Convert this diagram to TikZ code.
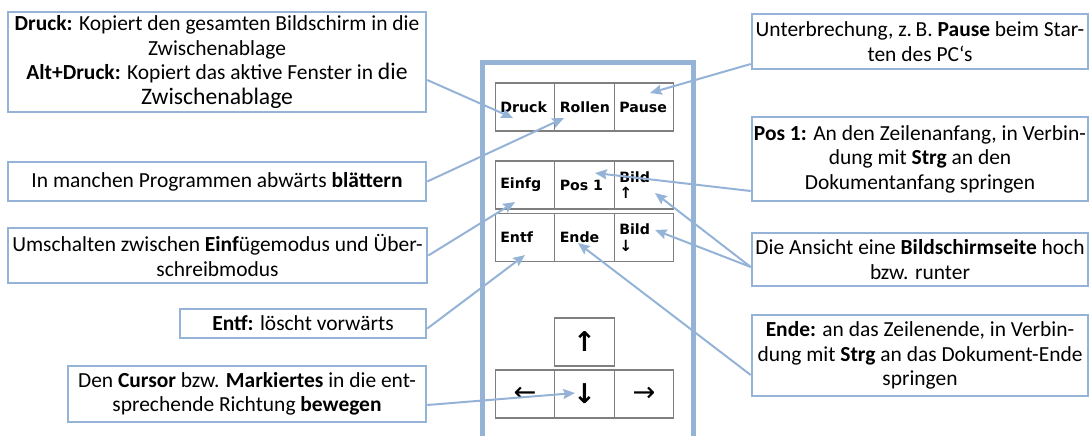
\documentclass[tikz,border=0pt]{standalone}
\usepackage{fontspec}
\setmainfont{Carlito}
\newfontfamily\keyfont{DejaVu Sans}
\usetikzlibrary{arrows.meta, calc}
\definecolor{frameBlue}{HTML}{95B3D7}
\definecolor{keyGray}{HTML}{7F7F7F}

\begin{document}
\begin{tikzpicture}[
		x=0.55pt, y=-0.55pt,
		font=\fontsize{11.8}{13.5}\selectfont,
		% Styles
		infoBox/.style 2 args={draw=frameBlue, line width=1.4pt, fill=white, inner sep=0pt, align=center, minimum width=#1, minimum height=#2},
		keyCap/.style={draw=keyGray, line width=0.7pt, minimum width=32.7pt, minimum height=26.4pt, inner xsep=2.75pt, inner ysep=0pt, text width=27.2pt, align=left, font=\keyfont\bfseries\fontsize{7.8}{8.6}\selectfont},
		arrowKey/.style={keyCap, align=center, font=\keyfont\fontsize{15}{16}\selectfont},
		pointerArrow/.style={-{Stealth[length=6.5pt, width=5.5pt, inset=1pt]}, line width=1.1pt, draw=frameBlue}
		]
		\useasboundingbox (0,0) rectangle (1091,435);
		
		% =========================================================
		% 1. KEYBOARD FRAME AND KEYS
		% =========================================================
		\draw[line width=2.75pt, frameBlue] (482,440) -- (482,62) -- (693,62) -- (693,440);
		
		% Top row
		\node[keyCap] (kDruck) at (525,107) {Druck};
		\node[keyCap] (kRollen) at (584.5,107) {Rollen};
		\node[keyCap] (kPause) at (644,107) {Pause};
		
		% Navigation block
		\node[keyCap] (kEinfg) at (525,185) {Einfg};
		\node[keyCap] (kPos) at (584.5,185) {Pos 1};
		\node[keyCap] (kBildUp) at (644,185) {Bild\\[0.5pt]{\fontsize{8.5}{8.6}\selectfont ↑}};
		\node[keyCap] (kEntf) at (525,237.5) {Entf};
		\node[keyCap] (kEnde) at (584.5,237.5) {Ende};
		\node[keyCap] (kBildDown) at (644,237.5) {Bild\\[0.5pt]{\fontsize{8.5}{8.6}\selectfont ↓}};
		
		% Cursor keys
		\node[arrowKey, font=\keyfont\bfseries\fontsize{15}{16}\selectfont] (kUp) at (584.5,342) {↑};
		\node[arrowKey] (kLeft) at (525,394) {←};
		\node[arrowKey, font=\keyfont\bfseries\fontsize{15}{16}\selectfont] (kDown) at (584.5,394) {↓};
		\node[arrowKey] (kRight) at (644,394) {→};
		
		% =========================================================
		% 2. EXPLANATION BOXES
		% =========================================================
		% Left column
		\node[infoBox={229.9pt}{55pt}] (bDruck) at (217,62) {\textbf{Druck:} Kopiert den gesamten Bildschirm in die\\
			Zwischenablage\\
			\textbf{Alt+Druck:} Kopiert das aktive Fenster in {\fontsize{13}{13.5}\selectfont die}\\
			{\fontsize{13}{13.5}\selectfont Zwischenablage}};
		\node[infoBox={229.9pt}{21.45pt}] (bRollen) at (217,181.5) {In manchen Programmen abwärts \textbf{blättern}};
		\node[infoBox={230.45pt}{30.25pt}] (bEinfg) at (217.5,255.5) {Umschalten zwischen \textbf{Einf}ügemodus und Über-\\schreibmodus};
		\node[infoBox={135.3pt}{15.95pt}] (bEntf) at (303,323.5) {\textbf{Entf:} löscht vorwärts};
		\node[infoBox={196.9pt}{30.8pt}] (bCursor) at (247,394) {Den \textbf{Cursor} bzw. \textbf{Markiertes} in die ent-\\sprechende Richtung \textbf{bewegen}};
		
		% Right column
		\node[infoBox={184.8pt}{30.25pt}] (bPause) at (920,41.5) {Unterbrechung, z.\,B. \textbf{Pause} beim Star-\\ten des PC‘s};
		\node[infoBox={184.8pt}{46.2pt}] (bPos) at (920,159) {\textbf{Pos 1:} An den Zeilenanfang, in Verbin-\\dung mit \textbf{Strg} an den\\Dokumentanfang springen};
		\node[infoBox={184.8pt}{29.15pt}] (bBild) at (920,259.5) {Die Ansicht eine \textbf{Bildschirmseite} hoch\\bzw. runter};
		\node[infoBox={184.8pt}{44.55pt}] (bEnde) at (920,355.5) {\textbf{Ende:} an das Zeilenende, in Verbin-\\dung mit \textbf{Strg} an das Dokument-Ende\\springen};
		
		% =========================================================
		% 3. POINTERS
		% =========================================================
		\draw[pointerArrow] ($(bDruck.east)+(0,18)$) -- ($(kDruck.center)+(-12,11)$);
		\draw[pointerArrow] (bRollen.east) -- ($(kRollen.center)+(-20.5,11)$);
		\draw[pointerArrow] ($(bPause.west)+(0,22.5)$) -- ($(kPause.center)+(6,-14)$);
		\draw[pointerArrow] (bEinfg.east) -- ($(kEinfg.center)+(-10,17)$);
		\draw[pointerArrow] ($(bEntf.east)+(0,5)$) -- ($(kEntf.center)+(0,17.5)$);
		\draw[pointerArrow] ($(bCursor.east)+(0,11)$) -- ($(kDown.center)+(-9.5,-1)$);
		\draw[pointerArrow] ($(bPos.west)+(0,32)$) -- ($(kPos.center)+(10.5,-12)$);
		\draw[pointerArrow] ($(bBild.west)+(0,7.5)$) -- ($(kBildUp.center)+(11,8)$);
		\draw[pointerArrow] ($(bBild.west)+(0,7.5)$) -- ($(kBildDown.center)+(11,-7.5)$);
		\draw[pointerArrow] ($(bEnde.west)+(0,19.5)$) -- ($(kEnde.center)+(-6.5,5.5)$);
		
	\end{tikzpicture}
\end{document}
